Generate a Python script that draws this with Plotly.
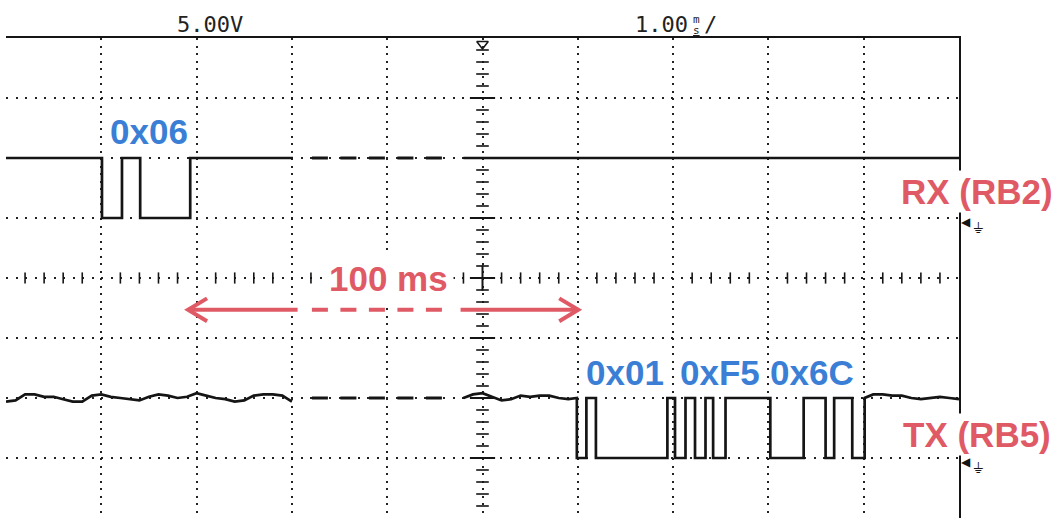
import numpy as np
import plotly.graph_objects as go

# ---- scope settings (time in ms, 1 ms/div; 5 V/div) ----
x_range = [0, 10]
y_range = [-4, 4]
volts_per_div = 5.0
high_v = 5.0
rx_offset_div = 1.0     # RX ground marker (divisions)
tx_offset_div = -3.0    # TX ground marker (divisions)

# ---- RX (RB2): 0x06 frame edges (ms), line idles high ----
rx_edges = [1.007, 1.217, 1.408, 1.933]

# ---- TX (RB5): 0x01, 0xF5, 0x6C frame edges (ms), line idles high ----
tx_edges = [5.99, 6.09, 6.19, 6.94, 7.02, 7.13, 7.23, 7.34, 7.42, 7.55,
            8.02, 8.37, 8.60, 8.69, 8.88, 9.01]

# time break (solid / dashed / solid)
seg1_end = 3.01
dash_start, dash_end = 3.21, 4.63
seg3_start = 4.80

# TX idle noise (V), one value every 0.1 ms
tx_noise_a_t = [round(0.1 * i, 1) for i in range(31)]          # 0.0 .. 3.0
tx_noise_a = [-0.3, -0.2, 0.3, 0.3, 0.1, 0.1, -0.1, -0.3, -0.3, 0.2,
              0.3, 0.1, 0.0, -0.1, -0.2, 0.1, 0.3, 0.2, 0.0, 0.1,
              0.4, 0.2, 0.0, -0.1, -0.3, -0.2, 0.2, 0.3, 0.3, 0.2, -0.3]
tx_noise_b_t = [round(4.8 + 0.1 * i, 1) for i in range(12)]    # 4.8 .. 5.9
tx_noise_b = [0.0, 0.3, 0.4, 0.1, -0.2, -0.1, 0.2, 0.1, 0.2, 0.2, 0.0, -0.1]
tx_noise_c_t = [round(9.1 + 0.1 * i, 1) for i in range(10)]    # 9.1 .. 10.0
tx_noise_c = [0.3, 0.3, 0.2, 0.2, 0.0, -0.1, 0.0, 0.1, 0.0, -0.1]

# labels (positions in divisions)
byte_labels = ["0x06", "0x01", "0xF5", "0x6C"]
byte_label_x = [1.50, 6.50, 7.49, 8.46]
byte_label_y = [2.45, -1.57, -1.57, -1.57]
channel_labels = ["RX (RB2)", "TX (RB5)"]
channel_label_x = 10.19
channel_label_y = [1.45, -2.60]

# 100 ms arrow
arrow_x0, arrow_x1, arrow_y = 1.91, 6.005, -0.53
arrow_solid1_end, arrow_dash0, arrow_dash1, arrow_solid2_start = 3.06, 3.21, 4.59, 4.77

RED = "#e05a66"
BLUE = "#3a7fd5"
INK = "#151515"


def px(xd):  # division -> paper x
    return (xd - x_range[0]) / (x_range[1] - x_range[0])


def py(yd):  # division -> paper y
    return (yd - y_range[0]) / (y_range[1] - y_range[0])


def to_div(v, offset):
    return offset + np.asarray(v, dtype=float) / volts_per_div


def step_points(edges, start_level, x_start, x_end):
    xs, ys = [x_start], [start_level]
    lvl = start_level
    for e in edges:
        new = high_v - lvl
        xs += [e, e]
        ys += [lvl, new]
        lvl = new
    xs.append(x_end)
    ys.append(lvl)
    return xs, ys


def label(x, y, text, font, xanchor="center", **kw):
    return dict(x=px(x), y=py(y), xref="paper", yref="paper", text=text, showarrow=False,
                xanchor=xanchor, yanchor="middle", font=font, **kw)


fig = go.Figure()
line_style = dict(color=INK, width=2.7)
dash_style = dict(color=INK, width=3.2, dash="16px,12.5px")

# RX traces
rx_x, rx_y = step_points([e for e in rx_edges if e < seg1_end], high_v, 0.0, seg1_end)
fig.add_trace(go.Scatter(x=rx_x, y=to_div(rx_y, rx_offset_div), mode="lines", line=line_style))
fig.add_trace(go.Scatter(x=[dash_start, dash_end], y=to_div([high_v, high_v], rx_offset_div),
                         mode="lines", line=dash_style))
fig.add_trace(go.Scatter(x=[seg3_start, x_range[1]], y=to_div([high_v, high_v], rx_offset_div),
                         mode="lines", line=line_style))

# TX traces
tx_a_y = [high_v + n for n in tx_noise_a]
fig.add_trace(go.Scatter(x=tx_noise_a_t, y=to_div(tx_a_y, tx_offset_div), mode="lines", line=line_style))
fig.add_trace(go.Scatter(x=[dash_start, dash_end], y=to_div([high_v, high_v], tx_offset_div),
                         mode="lines", line=dash_style))
tx_x = list(tx_noise_b_t)
tx_y = [high_v + n for n in tx_noise_b]
sx, sy = step_points(tx_edges, high_v, tx_edges[0], tx_edges[-1])
tx_x += sx[1:-1]
tx_y += sy[1:-1]
tx_x += tx_noise_c_t
tx_y += [high_v + n for n in tx_noise_c]
fig.add_trace(go.Scatter(x=tx_x, y=to_div(tx_y, tx_offset_div), mode="lines", line=line_style))

# 100 ms arrow (solid / dashed / solid) with open heads
arrow_line = dict(color=RED, width=4)
fig.add_trace(go.Scatter(x=[arrow_x0, arrow_solid1_end], y=[arrow_y, arrow_y], mode="lines", line=arrow_line))
fig.add_trace(go.Scatter(x=[arrow_dash0, arrow_dash1], y=[arrow_y, arrow_y], mode="lines",
                         line=dict(color=RED, width=4, dash="16px,12.5px")))
fig.add_trace(go.Scatter(x=[arrow_solid2_start, arrow_x1], y=[arrow_y, arrow_y], mode="lines", line=arrow_line))
head_dx, head_dy = 0.2, 0.19
fig.add_trace(go.Scatter(x=[arrow_x0 + head_dx, arrow_x0, arrow_x0 + head_dx],
                         y=[arrow_y + head_dy, arrow_y, arrow_y - head_dy],
                         mode="lines", line=dict(color=RED, width=4)))
fig.add_trace(go.Scatter(x=[arrow_x1 - head_dx, arrow_x1, arrow_x1 - head_dx],
                         y=[arrow_y + head_dy, arrow_y, arrow_y - head_dy],
                         mode="lines", line=dict(color=RED, width=4)))

# graticule center-line ticks
hx = np.round(np.arange(x_range[0], x_range[1] + 1e-9, 0.2), 2)
hx_minor = [v for v in hx if abs(v - round(v)) > 1e-6]
vy = np.round(np.arange(y_range[0], y_range[1] + 1e-9, 0.2), 2)
vy_minor = [v for v in vy if abs(v - round(v)) > 1e-6]
vy_major = [v for v in vy if abs(v - round(v)) < 1e-6 and abs(v) < 4]
fig.add_trace(go.Scatter(x=hx_minor, y=[0] * len(hx_minor), mode="markers",
                         marker=dict(symbol="line-ns", size=8, line=dict(width=1.6, color=INK))))
fig.add_trace(go.Scatter(x=[5] * len(vy_minor), y=vy_minor, mode="markers",
                         marker=dict(symbol="line-ew", size=9, line=dict(width=1.6, color=INK))))
fig.add_trace(go.Scatter(x=[5] * len(vy_major), y=vy_major, mode="markers",
                         marker=dict(symbol="line-ew", size=18, line=dict(width=2, color=INK))))
fig.add_trace(go.Scatter(x=[5], y=[0], mode="markers",
                         marker=dict(symbol="line-ns", size=18, line=dict(width=2, color=INK))))

# trigger marker at top
fig.add_trace(go.Scatter(x=[5], y=[3.9], mode="markers", cliponaxis=False,
                         marker=dict(symbol="triangle-down-open", size=10, color=INK,
                                     line=dict(width=1.5, color=INK))))

bold_blue = dict(family="Liberation Sans", size=35, color=BLUE, weight="bold")
bold_red = dict(family="Liberation Sans", size=35, color=RED, weight="bold")
annotations = []
for t, x, y in zip(byte_labels, byte_label_x, byte_label_y):
    annotations.append(label(x, y, t, bold_blue))
for t, y in zip(channel_labels, channel_label_y):
    annotations.append(label(channel_label_x, y, t, bold_red, bgcolor="white", borderpad=1))
annotations.append(label(4.01, 0.0, "100 ms", bold_red, bgcolor="white", borderpad=5))
# ground markers at the right border
for off in [rx_offset_div, tx_offset_div]:
    annotations.append(label(10.0, off - 0.07, "◀", dict(family="DejaVu Sans", size=12, color=INK),
                             xanchor="left"))
    annotations.append(label(10.13, off - 0.16, "⏚", dict(family="DejaVu Sans", size=15, color=INK),
                             xanchor="left"))
top_font = dict(family="DejaVu Sans Mono", size=22, color="#222")
small_font = dict(family="DejaVu Sans Mono", size=11, color="#222")
annotations.append(label(2.14, 4.22, "5.00V", top_font))
annotations.append(label(7.18, 4.22, "1.00", top_font, xanchor="right"))
annotations.append(label(7.245, 4.31, "m", small_font))
annotations.append(label(7.245, 4.13, "<u>s</u>", small_font))
annotations.append(label(7.30, 4.22, "/", top_font, xanchor="left"))

fig.update_layout(
    width=1060, height=519,
    margin=dict(l=6, r=101, t=38, b=1, autoexpand=False),
    paper_bgcolor="white", plot_bgcolor="white",
    showlegend=False,
    annotations=annotations,
    xaxis=dict(range=x_range, side="top", showline=True, linecolor=INK, linewidth=2,
               showgrid=True, dtick=1, gridcolor="#222", gridwidth=2, griddash="2px,5.5px",
               zeroline=False, showticklabels=False, ticks=""),
    yaxis=dict(range=y_range, side="right", showline=True, linecolor=INK, linewidth=2,
               showgrid=True, dtick=1, gridcolor="#222", gridwidth=2, griddash="2px,7.5px",
               zeroline=False, showticklabels=False, ticks=""),
)

fig.write_html("out.html", config={"displayModeBar": False},
               post_script="document.body.style.margin='0';document.body.style.overflow='hidden';")
